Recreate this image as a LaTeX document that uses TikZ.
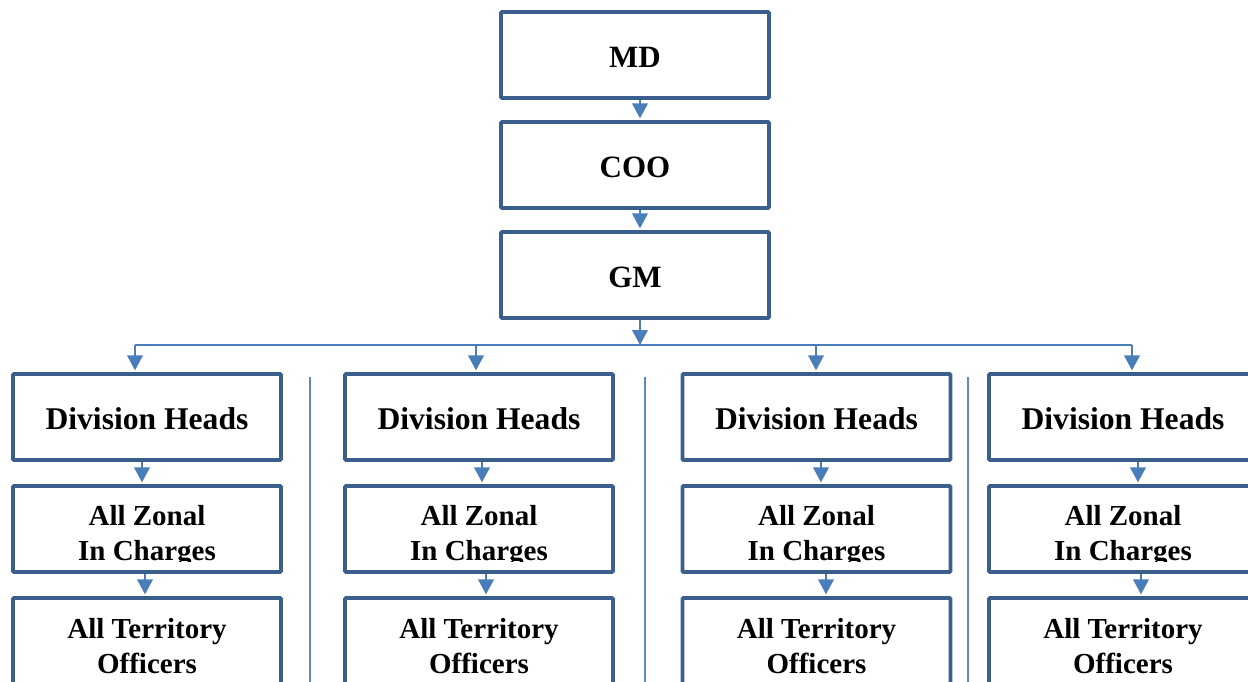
\documentclass[tikz,border=0pt]{standalone}
\usepackage{fontspec}
\setmainfont{Liberation Serif}
\usetikzlibrary{arrows.meta,calc}
\definecolor{boxline}{HTML}{3A5F8D}
\definecolor{arrowblue}{HTML}{4A7EBB}
\definecolor{sepblue}{HTML}{5A89C4}
\begin{document}
\begin{tikzpicture}[x=1pt,y=1pt,
  box/.style={draw=boxline, line width=3.6pt, fill=white, minimum width=268pt,
    minimum height=86pt, inner sep=0pt, rounded corners=1pt},
  toptext/.style={font=\bfseries\fontsize{31}{36}\selectfont, inner sep=0pt, anchor=base},
  headtext/.style={font=\bfseries\fontsize{31.6}{36}\selectfont, inner sep=0pt, anchor=base},
  subtext/.style={font=\bfseries\fontsize{29}{35}\selectfont, inner sep=0pt, anchor=base},
  conn/.style={draw=arrowblue, line width=2.2pt, -{Triangle[length=15pt,width=15.5pt]}, shorten >=1.8pt},
  bar/.style={draw=arrowblue, line width=2.2pt},
  sep/.style={draw=sepblue, line width=2pt}]

\useasboundingbox[fill=white] (0,0) rectangle (1248,-681);

% top chain
\node[box] (md)  at (635,-55)  {};
\node[box] (coo) at (635,-165) {};
\node[box] (gm)  at (635,-275) {};
\node[toptext] (mdt)  at (635,-67)  {MD};
\node[toptext] (coot) at (635,-177) {COO};
\node[toptext] (gmt)  at (635,-287) {GM};

\coordinate (xm) at (640,0);
\coordinate (busmid) at (640,-345);
\draw[conn] (md.south -| xm) -- (coo.north -| xm);
\draw[conn] (coo.south -| xm) -- (gm.north -| xm);
\draw[conn, shorten >=0pt] (gm.south -| xm) -- (busmid);

% column separators
\coordinate (s1a) at (310,-377);  \coordinate (s1b) at (310,-690);
\coordinate (s2a) at (645,-377);  \coordinate (s2b) at (645,-690);
\coordinate (s3a) at (968,-377);  \coordinate (s3b) at (968,-690);
\draw[sep] (s1a) -- (s1b);
\draw[sep] (s2a) -- (s2b);
\draw[sep] (s3a) -- (s3b);

% the four divisions
\foreach \i/\cx/\za/\zb/\zc in {1/147/135/142/145, 2/479/476/482/486,
                                3/816.5/816/821/826, 4/1123/1132/1138/1141} {
  \node[box] (dh\i) at (\cx,-417) {};
  \node[box] (zn\i) at (\cx,-529) {};
  \node[box] (to\i) at (\cx,-641) {};
  \node[headtext] (dht\i) at (\cx,-429) {Division Heads};
  \begin{scope}
    \clip (\cx-134,-486) rectangle (\cx+134,-561);
    \node[subtext] (znta\i) at (\cx,-525) {All Zonal};
    \node[subtext] (zntb\i) at (\cx,-560) {In Charges};
  \end{scope}
  \node[subtext] (tota\i) at (\cx,-638) {All Territory};
  \node[subtext] (totb\i) at (\cx,-673) {Officers};
  \coordinate (bus\i) at (\za,-345);
  \coordinate (xb\i) at (\zb,0);
  \coordinate (xc\i) at (\zc,0);
  \draw[conn] (bus\i) -- (dh\i.north -| bus\i);
  \draw[conn] (dh\i.south -| xb\i) -- (zn\i.north -| xb\i);
  \draw[conn] (zn\i.south -| xc\i) -- (to\i.north -| xc\i);
}
\draw[bar] (bus1) -- (bus4);

\end{tikzpicture}
\end{document}
